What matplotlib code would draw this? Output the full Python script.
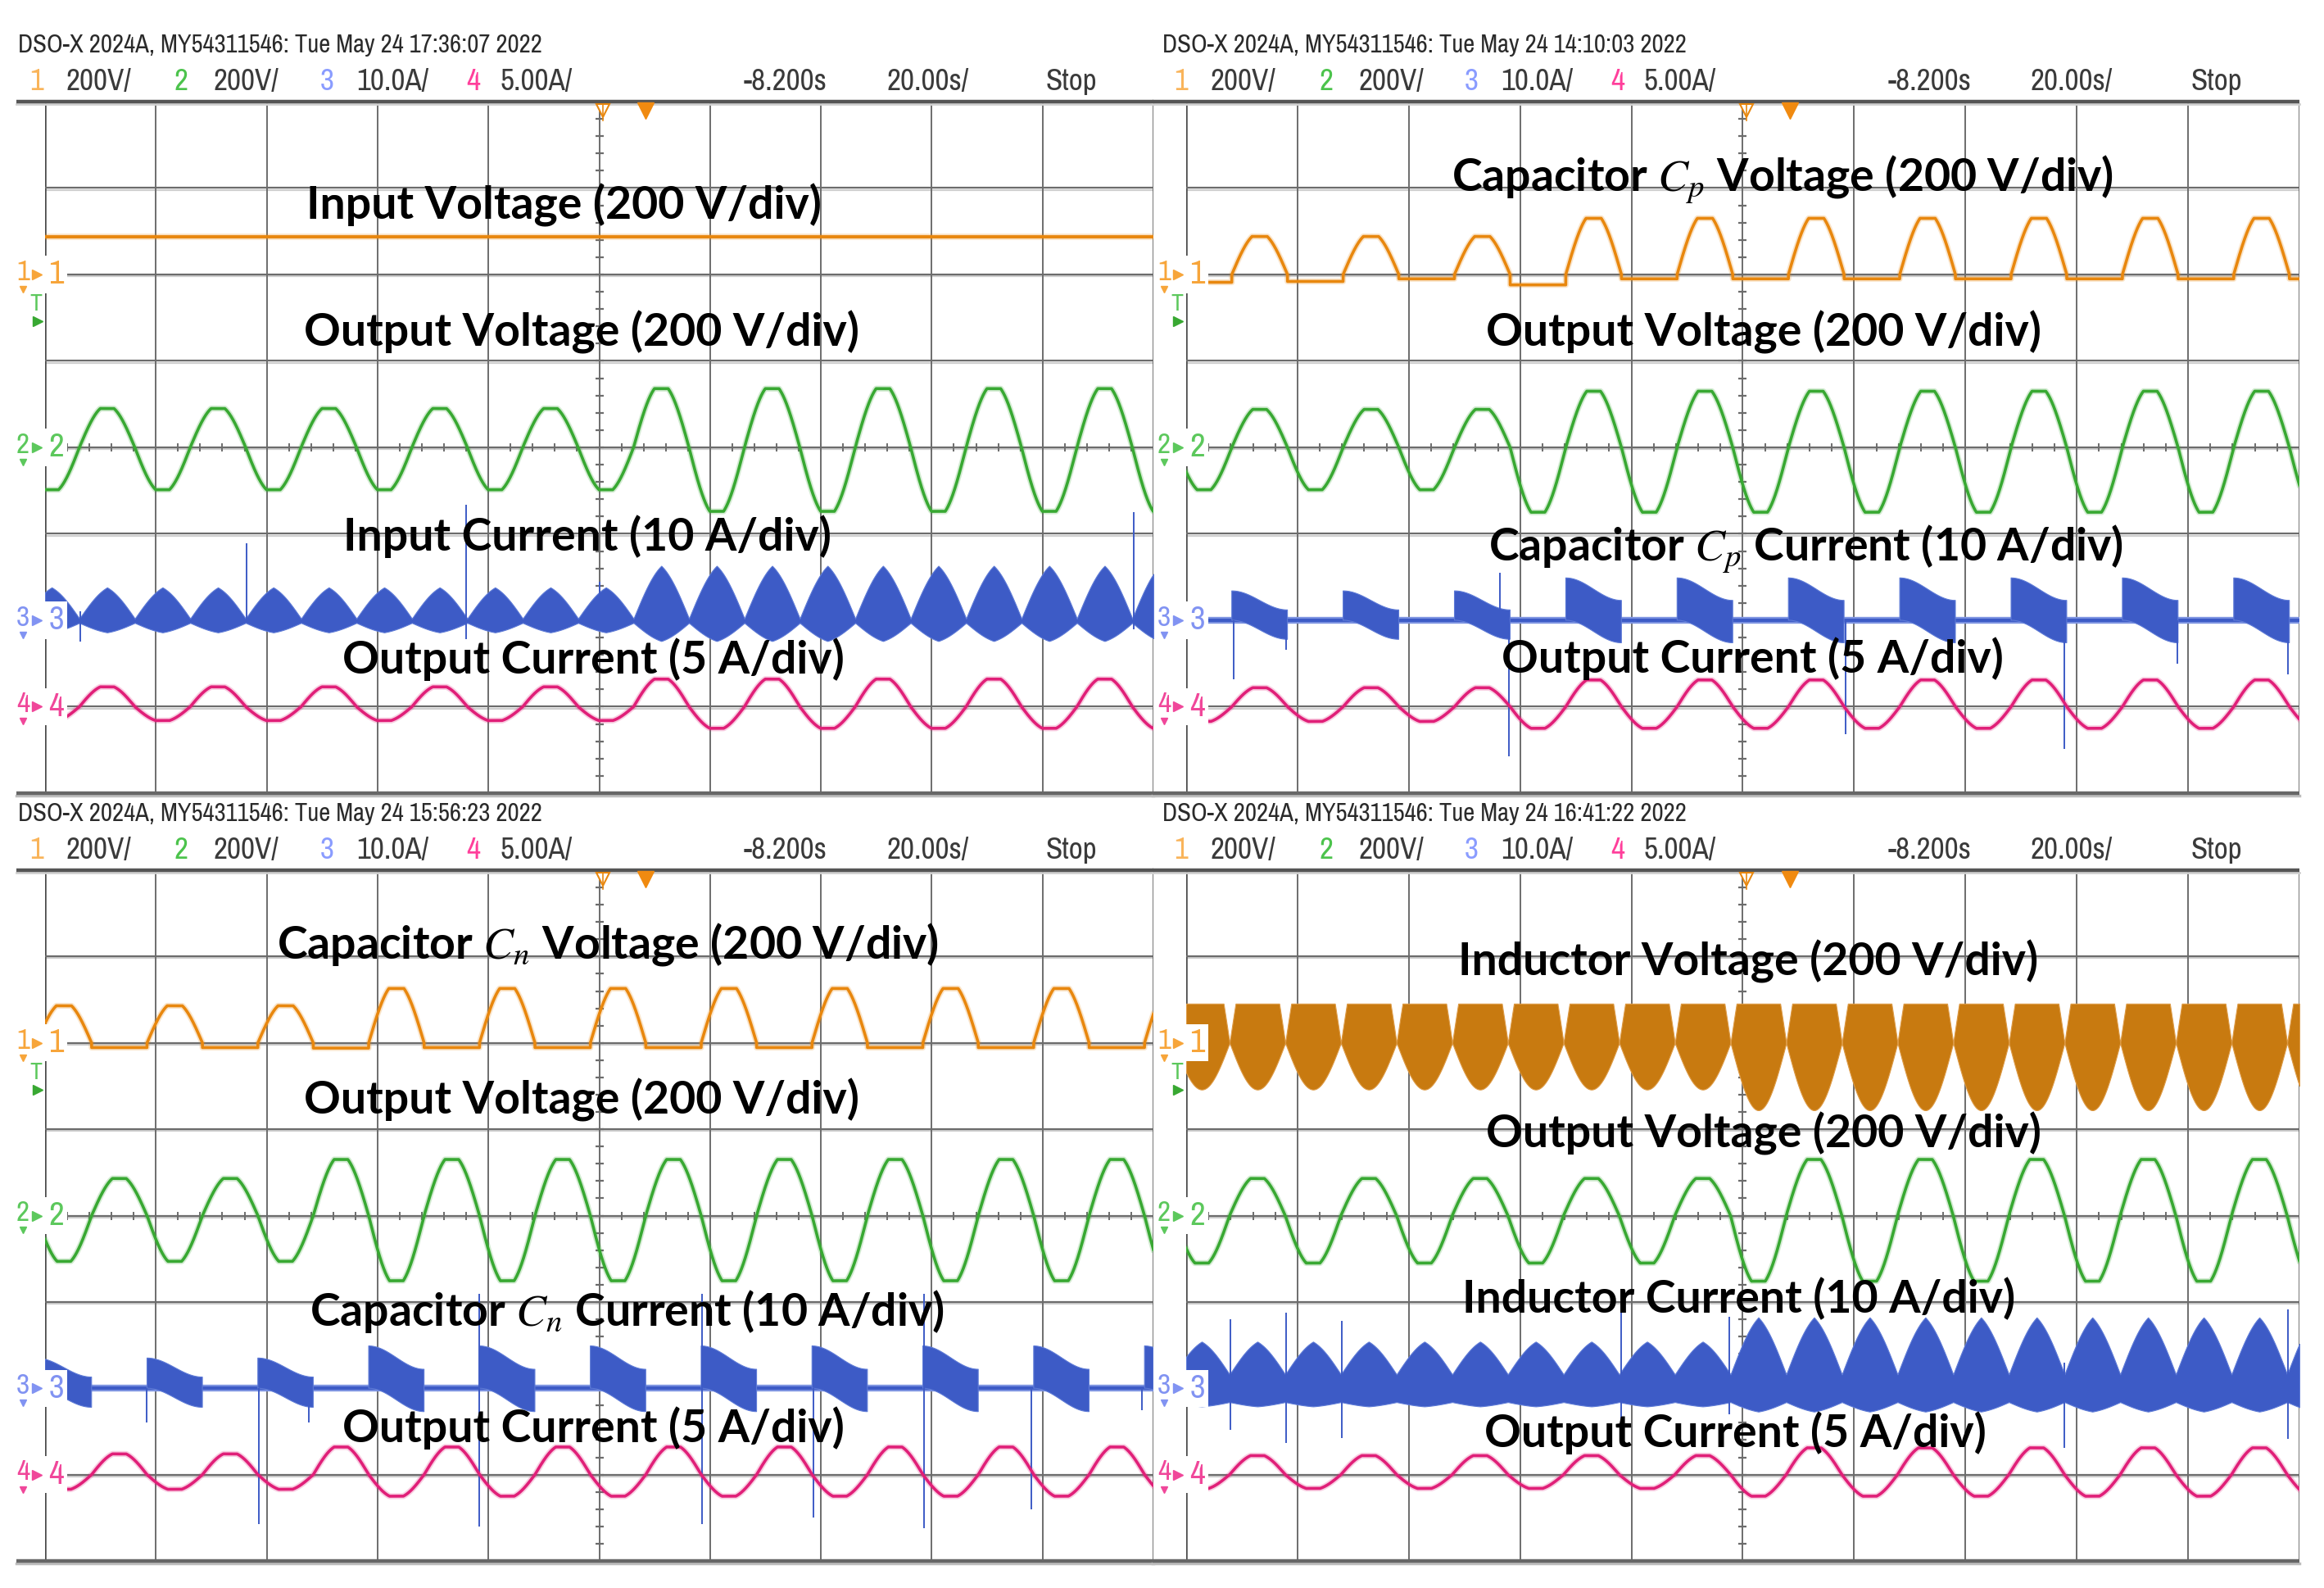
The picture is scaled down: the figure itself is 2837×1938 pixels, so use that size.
import numpy as np
import matplotlib
matplotlib.use('Agg')
import matplotlib.pyplot as plt
from matplotlib import font_manager as fm

plt.rcParams['mathtext.fontset'] = 'stix'

W, H = 2837, 1938

# ---------------- data (units: divisions) ----------------
scope_id = 'DSO-X 2024A, MY54311546: '
panel_stamps = ['Tue May 24 17:36:07 2022', 'Tue May 24 14:10:03 2022',
                'Tue May 24 15:56:23 2022', 'Tue May 24 16:41:22 2022']
ch_scales = ['200V/', '200V/', '10.0A/', '5.00A/']
time_info = ['-8.200s', '20.00s/', 'Stop']

labels_tl = ['Input Voltage (200 V/div)', 'Output Voltage (200 V/div)',
             'Input Current (10 A/div)', 'Output Current (5 A/div)']
labels_tr = ['Capacitor $C_p$ Voltage (200 V/div)', 'Output Voltage (200 V/div)',
             'Capacitor $C_p$ Current (10 A/div)', 'Output Current (5 A/div)']
labels_bl = ['Capacitor $C_n$ Voltage (200 V/div)', 'Output Voltage (200 V/div)',
             'Capacitor $C_n$ Current (10 A/div)', 'Output Current (5 A/div)']
labels_br = ['Inductor Voltage (200 V/div)', 'Output Voltage (200 V/div)',
             'Inductor Current (10 A/div)', 'Output Current (5 A/div)']

# rising zero crossing of the output voltage in each screen (div)
zero_cross = [0.31, 0.41, 0.42, 0.39]

# per half cycle (21 half cycles, first one negative), signed peak in div
vout_tl = [-0.49, 0.45, -0.49, 0.45, -0.49, 0.45, -0.49, 0.45, -0.49, 0.45, -0.49,
           0.68, -0.74, 0.68, -0.74, 0.68, -0.74, 0.68, -0.74, 0.68, -0.74]
iout_tl = [-0.16, 0.23, -0.16, 0.23, -0.16, 0.23, -0.16, 0.23, -0.16, 0.23, -0.16,
           0.32, -0.25, 0.32, -0.25, 0.32, -0.25, 0.32, -0.25, 0.32, -0.25]
iin_top_tl = [0.38, 0.38, 0.38, 0.38, 0.38, 0.38, 0.38, 0.38, 0.38, 0.38, 0.38,
              0.63, 0.63, 0.63, 0.63, 0.63, 0.63, 0.63, 0.63, 0.63, 0.63]
iin_bot_tl = [0.14, 0.14, 0.14, 0.14, 0.14, 0.14, 0.14, 0.14, 0.14, 0.14, 0.14,
              0.24, 0.24, 0.24, 0.24, 0.24, 0.24, 0.24, 0.24, 0.24, 0.24]
vin_tl = 0.44
spikes_tl = [(0.32, 1.75, 2.1), (1.82, 2.0, 2.89), (3.80, 1.78, 3.34),
             (5.00, 2.0, 2.45), (9.82, 1.9, 3.25)]

vout_tr = [-0.49, 0.44, -0.49, 0.44, -0.49, 0.44, -0.75, 0.65, -0.75, 0.65, -0.75,
           0.65, -0.75, 0.65, -0.75, 0.65, -0.75, 0.65, -0.75, 0.65, -0.75]
vcp_tr = [-0.09, 0.44, -0.08, 0.44, -0.05, 0.44, -0.12, 0.65, -0.05, 0.65, -0.05,
          0.65, -0.05, 0.65, -0.05, 0.65, -0.05, 0.65, -0.05, 0.65, -0.05]
icp_up_tr = [0, 0.34, 0, 0.34, 0, 0.34, 0, 0.49, 0, 0.49, 0,
             0.49, 0, 0.49, 0, 0.49, 0, 0.49, 0, 0.49, 0]
icp_dn_tr = [0, 0.22, 0, 0.22, 0, 0.22, 0, 0.26, 0, 0.26, 0,
             0.26, 0, 0.26, 0, 0.26, 0, 0.26, 0, 0.26, 0]
iout_tr = [-0.17, 0.22, -0.17, 0.22, -0.17, 0.22, -0.25, 0.31, -0.25, 0.31, -0.25,
           0.31, -0.25, 0.31, -0.25, 0.31, -0.25, 0.31, -0.25, 0.31, -0.25]
spikes_tr = [(0.43, 1.32, 2.0), (0.90, 1.66, 2.0), (2.82, 2.0, 2.55), (2.90, 0.43, 2.0),
             (5.92, 0.68, 2.0), (7.89, 0.51, 2.0), (8.90, 1.5, 2.0), (9.90, 1.37, 2.0)]

vout_bl = [-0.53, 0.43, -0.53, 0.43, -0.53, 0.65, -0.755, 0.65, -0.755, 0.65, -0.755,
           0.65, -0.755, 0.65, -0.755, 0.65, -0.755, 0.65, -0.755, 0.65, -0.755]
vcn_bl = [0.43, -0.054, 0.43, -0.054, 0.43, -0.06, 0.63, -0.054, 0.63, -0.054, 0.63,
          -0.054, 0.63, -0.054, 0.63, -0.054, 0.63, -0.054, 0.63, -0.054, 0.63]
icn_up_bl = [0.35, 0, 0.35, 0, 0.35, 0, 0.49, 0, 0.49, 0, 0.49,
             0, 0.49, 0, 0.49, 0, 0.49, 0, 0.49, 0, 0.49]
icn_dn_bl = [0.22, 0, 0.22, 0, 0.22, 0, 0.27, 0, 0.27, 0, 0.27,
             0, 0.27, 0, 0.27, 0, 0.27, 0, 0.27, 0, 0.27]
iout_bl = [-0.17, 0.24, -0.17, 0.24, -0.17, 0.32, -0.25, 0.32, -0.25, 0.32, -0.25,
           0.32, -0.25, 0.32, -0.25, 0.32, -0.25, 0.32, -0.25, 0.32, -0.25]
spikes_bl = [(0.92, 1.6, 2.0), (1.93, 0.43, 2.0), (2.38, 1.6, 2.0), (3.92, 0.4, 3.09),
             (5.93, 0.43, 3.09), (6.93, 0.5, 2.0), (7.93, 0.38, 3.09), (8.90, 0.6, 2.0),
             (9.90, 1.75, 2.0)]

vout_br = [-0.55, 0.43, -0.55, 0.43, -0.55, 0.43, -0.55, 0.43, -0.55, 0.43, -0.76,
           0.65, -0.76, 0.65, -0.76, 0.65, -0.76, 0.65, -0.76, 0.65, -0.76]
vl_top_br = 0.455
vl_bot_br = [0.54, 0.54, 0.54, 0.54, 0.54, 0.54, 0.54, 0.54, 0.54, 0.54, 0.78,
             0.78, 0.78, 0.78, 0.78, 0.78, 0.78, 0.78, 0.78, 0.78, 0.78]
il_top_br = [0.54, 0.54, 0.54, 0.54, 0.54, 0.54, 0.54, 0.54, 0.54, 0.54, 0.82,
             0.82, 0.82, 0.82, 0.82, 0.82, 0.82, 0.82, 0.82, 0.82, 0.82]
il_bot_br = [0.21, 0.21, 0.21, 0.21, 0.21, 0.21, 0.21, 0.21, 0.21, 0.21, 0.27,
             0.27, 0.27, 0.27, 0.27, 0.27, 0.27, 0.27, 0.27, 0.27, 0.27]
iout_br = [-0.16, 0.22, -0.16, 0.22, -0.16, 0.22, -0.16, 0.22, -0.16, 0.22, -0.25,
           0.31, -0.25, 0.31, -0.25, 0.31, -0.25, 0.31, -0.25, 0.31, -0.25]
spikes_br = [(0.40, 1.52, 2.80), (0.90, 1.37, 2.88), (1.40, 1.42, 2.78), (3.91, 1.63, 3.08),
             (4.88, 1.7, 2.83), (7.89, 1.31, 2.3), (9.90, 1.41, 2.91)]

# ---------------- layout / style ----------------
boxes = [(55, 124, 1408, 968), (1448, 124, 2807, 968),
         (55, 1062, 1408, 1905), (1448, 1062, 2807, 1905)]
head_x = [22, 1419, 22, 1419]
head_y = [(55, 100), (993, 1037)]
item_dx = [14, 59, 191, 239, 369, 413, 547, 588, 886, 1060, 1255]

ORANGE, GREEN, BLUE, PINK = '#e8870e', '#38a832', '#3d5bc6', '#e01f78'
LIGHT = ['#f7a53a', '#5cc85c', '#8193f2', '#f0479a']
HEAD_DIG = ['#f9b45a', '#4cc34c', '#8a9cff', '#ff3f9b']
GRID = '#6c6c6c'


def pick_narrow():
    found = []
    for f in fm.fontManager.ttflist:
        p = str(f.fname)
        tag = f.name + ' ' + p
        if any(k in p for k in ('Bold', 'Italic', 'Oblique', 'Light', 'Thin', 'Black', 'Medium')):
            continue
        if 'Narrow' in tag:
            found.append((0, p))
        elif 'Condensed' in tag and 'Extra' not in tag and 'Semi' not in tag:
            found.append((1, p))
    if found:
        return fm.FontProperties(fname=sorted(found)[0][1])
    return fm.FontProperties(family='Liberation Sans')


fig = plt.figure(figsize=(W / 100, H / 100), dpi=100)
fig.patch.set_facecolor('white')
renderer = fig.canvas.get_renderer()


def fit_size(text, target_px, **kw):
    tt = fig.text(0, 0, text, fontsize=20, **kw)
    w = tt.get_window_extent(renderer).width
    tt.remove()
    return 20 * target_px / w


head_fp = pick_narrow()
head_size = fit_size(scope_id + panel_stamps[0], 639, fontproperties=head_fp)
item_size = fit_size('200V/', 80, fontproperties=head_fp)
label_size = fit_size('Output Voltage (200 V/div)', 678,
                      family=['Lato', 'DejaVu Sans'], fontweight='bold')

t = np.linspace(0, 10, 20001)


def half_index(t0):
    u = (t - t0 + 0.5) / 0.5
    j = np.floor(u).astype(int)
    th = np.pi * (u - j)
    return np.clip(j, 0, 20), th


def sine_trace(t0, amps):
    j, th = half_index(t0)
    return np.asarray(amps)[j] * np.clip(1.08 * np.sin(th), 0, 1)


def cap_trace(t0, vals, parity):
    j, th = half_index(t0)
    v = np.asarray(vals)[j]
    return np.where(j % 2 == parity, v * np.clip(1.1 * np.sin(th), 0, 1), v)


def trace(ax, y, color, lw=2.6):
    ax.plot(t, y, color=color, lw=lw + 2.6, alpha=0.22, zorder=3)
    ax.plot(t, y, color=color, lw=lw, zorder=4)


def burst(ax, t0, up, dn, g):
    j, th = half_index(t0)
    U = np.asarray(up, float)[j]
    D = np.asarray(dn, float)[j]
    w = U / 2
    c = (U - w + D - w) / 2 * np.cos(th) + (U - D) / 2
    ax.plot([0, 10], [g, g], color='#7f95e2', lw=6, zorder=3)
    ax.plot([0, 10], [g, g], color=BLUE, lw=3, zorder=3)
    ax.fill_between(t, g + c - w, g + c + w, where=U > 0, color=BLUE,
                    edgecolor='#5d7ad6', lw=0.8, zorder=4)


def hump_band(ax, t0, top, bot, top0, bot0, g):
    j, th = half_index(t0)
    s = 0.5 * (np.sin(th) + 1 - np.abs(2 * th / np.pi - 1))
    T = np.asarray(top)[j]
    B = np.asarray(bot)[j]
    ax.plot([0, 10], [g, g], color='#6f88dd', lw=2, zorder=3)
    ax.fill_between(t, g - (bot0 + (B - bot0) * s), g + top0 + (T - top0) * s,
                    color=BLUE, edgecolor='#5d7ad6', lw=0.8, zorder=4)


def spikes(ax, sp):
    ax.vlines([s[0] for s in sp], [s[1] for s in sp], [s[2] for s in sp],
              color=BLUE, lw=1.4, zorder=4)


def frame(ax, p):
    x_left = -0.26 if p % 2 == 0 else -0.3
    for k in range(11):
        ax.plot([k, k], [0, 8], color=GRID if 0 < k < 10 else '#4a4a4a',
                lw=1.4 if 0 < k < 10 else 1.8, zorder=1)
    for k in range(1, 8):
        ax.plot([0, 10], [k, k], color=GRID, lw=1.6, zorder=1)
        ax.plot([0, 10], [k - 0.02, k - 0.02], color='#cfcfcf', lw=1.6, zorder=0.9)
    ax.plot(np.arange(0.2, 10, 0.2), np.full(49, 4.0), ls='none', marker='|',
            ms=7, mew=1.4, color=GRID, zorder=1)
    ax.plot(np.full(39, 5.0), np.arange(0.2, 8, 0.2), ls='none', marker='_',
            ms=7, mew=1.6, color=GRID, zorder=1)
    for y, c in [(8, '#555555'), (0, '#666666')]:
        ax.plot([x_left, 10], [y, y], color=c, lw=3.2, clip_on=False, zorder=6,
                solid_capstyle='butt')
    ax.plot([x_left, 10], [7.975, 7.975], color='#d0d0d0', lw=2, clip_on=False, zorder=5)
    ax.plot([x_left, 10], [-0.03, -0.03], color='#bdbdbd', lw=2.5, clip_on=False, zorder=5)
    ax.plot([5.03], [7.9], marker='v', ms=11, mfc='white', mec=ORANGE, mew=1.5,
            clip_on=False, zorder=7)
    ax.plot([5.03, 5.03], [7.96, 7.78], color=ORANGE, lw=1.2, clip_on=False, zorder=7)
    ax.plot([5.42], [7.9], marker='v', ms=14, color='#f08a10', clip_on=False, zorder=7)
    for ch, g in zip(range(1, 5), [6, 4, 2, 1]):
        c = LIGHT[ch - 1]
        ax.text(-0.2, g + 0.03, str(ch), color=c, fontsize=item_size * 0.95, ha='center',
                va='center', fontproperties=head_fp, clip_on=False)
        ax.plot([-0.2], [g - 0.17], marker='v', ms=6, color=c, clip_on=False)
        ax.plot([-0.075], [g], marker='>', ms=8, color=c, clip_on=False)
        ax.text(0.1, g, str(ch), color=c, fontsize=item_size * 1.1, ha='center', va='center',
                fontproperties=head_fp, zorder=11,
                bbox=dict(boxstyle='square,pad=0.1', fc='white', ec='none'))
    ax.text(-0.08, 5.66, 'T', color=LIGHT[1], fontsize=item_size * 0.8, ha='center',
            va='center', fontproperties=head_fp, clip_on=False)
    ax.plot([-0.07], [5.46], marker='>', ms=8, color=GREEN, clip_on=False)


def header(p):
    x0 = head_x[p]
    y1, y2 = head_y[p // 2]
    fig.text(x0 / W, 1 - y1 / H, scope_id + panel_stamps[p], color='#2a2a2a',
             fontproperties=head_fp, fontsize=head_size, va='center', ha='left')
    items = ['1', ch_scales[0], '2', ch_scales[1], '3', ch_scales[2], '4', ch_scales[3]] + time_info
    txt = '#3a3a3a'
    cols = [HEAD_DIG[0], txt, HEAD_DIG[1], txt, HEAD_DIG[2], txt, HEAD_DIG[3], txt, txt, txt, txt]
    for s, dx, c in zip(items, item_dx, cols):
        fig.text((x0 + dx) / W, 1 - y2 / H, s, color=c, fontproperties=head_fp,
                 fontsize=item_size, va='center', ha='left')


def put_labels(ax, labels, pos):
    for s, (x, y) in zip(labels, pos):
        ax.text(x, y, s, family=['Lato', 'DejaVu Sans'], fontweight='bold',
                fontsize=label_size, ha='center', va='center', color='black', zorder=10)


axes = []
for p in range(4):
    l, tp, r, b = boxes[p]
    ax = fig.add_axes([l / W, 1 - b / H, (r - l) / W, (b - tp) / H])
    ax.set_xlim(0, 10)
    ax.set_ylim(0, 8)
    ax.axis('off')
    frame(ax, p)
    header(p)
    axes.append(ax)

# top-left: input side
ax = axes[0]
t0 = zero_cross[0]
ax.plot([0, 10], [6 + vin_tl] * 2, color=ORANGE, lw=5.5, alpha=0.25, zorder=3)
ax.plot([0, 10], [6 + vin_tl] * 2, color=ORANGE, lw=2.8, zorder=4)
trace(ax, 4 + sine_trace(t0, vout_tl), GREEN)
hump_band(ax, t0, iin_top_tl, iin_bot_tl, 0.02, 0.03, 2)
spikes(ax, spikes_tl)
trace(ax, 1 + sine_trace(t0, iout_tl), PINK)
put_labels(ax, labels_tl, [(4.68, 6.80), (4.84, 5.33), (4.89, 2.97), (4.95, 1.55)])

# top-right: capacitor Cp
ax = axes[1]
t0 = zero_cross[1]
trace(ax, 6 + cap_trace(t0, vcp_tr, 1), ORANGE)
trace(ax, 4 + sine_trace(t0, vout_tr), GREEN)
burst(ax, t0, icp_up_tr, icp_dn_tr, 2)
spikes(ax, spikes_tr)
trace(ax, 1 + sine_trace(t0, iout_tr), PINK)
put_labels(ax, labels_tr, [(5.36, 7.10), (5.19, 5.33), (5.57, 2.82), (5.09, 1.56)])

# bottom-left: capacitor Cn
ax = axes[2]
t0 = zero_cross[2]
trace(ax, 6 + cap_trace(t0, vcn_bl, 0), ORANGE)
trace(ax, 4 + sine_trace(t0, vout_bl), GREEN)
burst(ax, t0, icn_up_bl, icn_dn_bl, 2)
spikes(ax, spikes_bl)
trace(ax, 1 + sine_trace(t0, iout_bl), PINK)
put_labels(ax, labels_bl, [(5.08, 7.14), (4.84, 5.34), (5.25, 2.89), (4.95, 1.54)])

# bottom-right: inductor
ax = axes[3]
t0 = zero_cross[3]
j, th = half_index(t0)
s = np.sin(th)
ax.fill_between(t, 6 - np.asarray(vl_bot_br)[j] * s, 6 + vl_top_br * np.clip(3.0 * s, 0, 1),
                color='#c87a10', edgecolor='#dd9a45', lw=0.8, zorder=4)
trace(ax, 4 + sine_trace(t0, vout_br), GREEN)
hump_band(ax, t0, il_top_br, il_bot_br, 0.16, 0.16, 2)
spikes(ax, spikes_br)
trace(ax, 1 + sine_trace(t0, iout_br), PINK)
put_labels(ax, labels_br, [(5.05, 6.94), (5.19, 4.95), (4.96, 3.04), (4.93, 1.48)])

fig.savefig('out.png', dpi=100, facecolor='white')
